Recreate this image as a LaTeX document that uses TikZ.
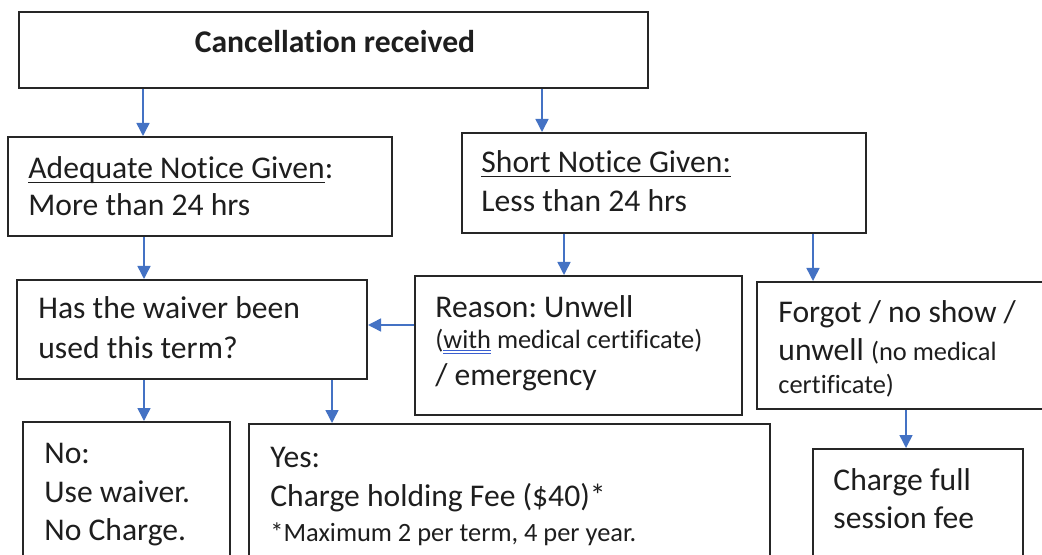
\documentclass[tikz,border=0pt]{standalone}
\usepackage{fontspec}
\setmainfont{Carlito}[RawFeature={-liga;-clig;-dlig;-calt;-rlig}]
\frenchspacing
\usetikzlibrary{arrows.meta,fit,calc}
\definecolor{arrowblue}{HTML}{4472C4}
\definecolor{spellblue}{HTML}{3A5FD0}
\definecolor{boxline}{HTML}{262626}
\definecolor{inkcol}{HTML}{1E1E1E}
\newcommand\myul[1]{\setbox0\hbox{#1}\rlap{\rule[-2.2pt]{\wd0}{0.6pt}}\box0\relax}
\newcommand\dulx[1]{\setbox0\hbox{#1}\rlap{\textcolor{spellblue}{\rule[-1.5pt]{\wd0}{0.4pt}}}\rlap{\textcolor{spellblue}{\rule[-3pt]{\wd0}{0.4pt}}}\box0\relax}
\newcommand\mainsz{\fontsize{15.8pt}{19pt}\selectfont}
\newcommand\smallsz{\fontsize{13.2pt}{16pt}\selectfont}
\begin{document}
\begin{tikzpicture}[x=0.5pt,y=-0.5pt,
  boxnode/.style={draw=boxline,line width=1pt,inner sep=0pt,rectangle},
  txt/.style={inner sep=0pt,anchor=base west,text=inkcol,font=\mainsz},
  arr/.style={draw=arrowblue,line width=0.75pt,-{Triangle[width=6.5pt,length=6.5pt]}}]
\path[use as bounding box,clip] (0,0) rectangle (1042,555);
\fill[white] (0,0) rectangle (1042,555);
% boxes
\node[boxnode,fit={(19,12) (648,88)}] (b1) {};
\node[boxnode,fit={(8,137) (392,236)}] (b2) {};
\node[boxnode,fit={(462,133) (866,233)}] (b3) {};
\node[boxnode,fit={(17,280) (367,379)}] (b4) {};
\node[boxnode,fit={(415,276) (742,415)}] (b5) {};
\node[boxnode,fit={(757,282) (1062,409)}] (b6) {};
\node[boxnode,fit={(23,422) (230,575)}] (b7) {};
\node[boxnode,fit={(249,424) (770,575)}] (b8) {};
\node[boxnode,fit={(813,449) (1023,575)}] (b9) {};
% texts
\node[txt,anchor=base,font=\mainsz\bfseries] (t1) at (335,53) {Cancellation received};
\node[txt] (t2a) at (28,179) {\myul{Adequate Notice Given}:};
\node[txt] (t2b) at (28,216) {More than 24 hrs};
\node[txt] (t3a) at (481,173) {\myul{Short Notice Given:}};
\node[txt] (t3b) at (481,212) {Less than 24 hrs};
\node[txt] (t4a) at (38,318) {Has the waiver been};
\node[txt] (t4b) at (38,358) {used this term?};
\node[txt] (t5a) at (435,317) {Reason: Unwell};
\node[txt,font=\smallsz] (t5b) at (435,348) {(\dulx{with} medical certificate)};
\node[txt] (t5c) at (435,385) {/ emergency};
\node[txt] (t6a) at (778,322) {Forgot / no show /};
\node[txt] (t6b) at (778,360) {unwell {\smallsz(no medical}};
\node[txt,font=\smallsz] (t6c) at (778,393) {certificate)};
\node[txt] (t7a) at (44,463) {No:};
\node[txt] (t7b) at (44,502) {Use waiver.};
\node[txt] (t7c) at (44,540) {No Charge.};
\node[txt] (t8a) at (270,467) {Yes:};
\node[txt] (t8b) at (270,506) {Charge holding Fee (\$40)*};
\node[txt,font=\smallsz] (t8c) at (270,541) {*Maximum 2 per term, 4 per year.};
\node[txt] (t9a) at (833,490) {Charge full};
\node[txt] (t9b) at (833,528) {session fee};
% arrows
\draw[arr] (143,0 |- b1.south) -- (143,0 |- b2.north);
\draw[arr] (542,0 |- b1.south) -- (542,0 |- b3.north);
\draw[arr] (144,0 |- b2.south) -- (144,0 |- b4.north);
\draw[arr] (564,0 |- b3.south) -- (564,0 |- b5.north);
\draw[arr] (813,0 |- b3.south) -- (813,0 |- b6.north);
\draw[arr] (b5.west |- 0,325) -- (b4.east |- 0,325);
\draw[arr] (144,0 |- b4.south) -- (144,0 |- b7.north);
\draw[arr] (332,0 |- b4.south) -- (332,0 |- b8.north);
\draw[arr] (906,0 |- b6.south) -- (906,0 |- b9.north);
\end{tikzpicture}
\end{document}
